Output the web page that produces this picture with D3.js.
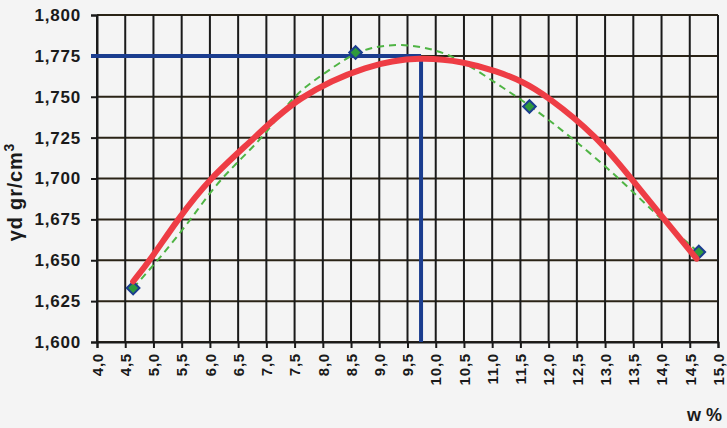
<!DOCTYPE html>
<html>
<head>
<meta charset="utf-8">
<script src="https://cdn.jsdelivr.net/npm/d3@7"></script>
<style>
  body { margin: 0; background: #f4f4f4; }
  svg { display: block; font-family: "Liberation Sans", Arial, sans-serif; }
</style>
</head>
<body>
<div id="chart"></div>
<script>
// measured points (w %, dry density)
var sampleW = [4.64, 8.58, 11.66, 14.66];
var sampleYd = [1.633, 1.777, 1.744, 1.655];

// red compaction curve
var curveW = [4.64, 4.94, 5.43, 5.99, 6.80, 7.54, 8.80, 9.74, 10.5, 11.09, 11.53, 11.97, 12.85, 13.46, 14.05, 14.62];
var curveYd = [1.637, 1.650, 1.675, 1.700, 1.725, 1.750, 1.770, 1.7745, 1.7714, 1.7655, 1.7595, 1.7505, 1.726, 1.700, 1.675, 1.651];

// green dashed trend line
var trendW = [4.64, 5.08, 5.67, 6.17, 6.96, 7.45, 7.93, 8.45, 8.80, 9.39, 10.0, 10.5, 11.1, 11.66, 12.41, 13.26, 13.99, 14.65];
var trendYd = [1.633, 1.650, 1.675, 1.700, 1.725, 1.750, 1.762, 1.7745, 1.780, 1.7827, 1.779, 1.7715, 1.7575, 1.745, 1.725, 1.700, 1.675, 1.655];

// optimum (w opt, yd max)
var optW = 9.74;
var optYd = 1.775;

var xTickValues = [4.0, 4.5, 5.0, 5.5, 6.0, 6.5, 7.0, 7.5, 8.0, 8.5, 9.0, 9.5, 10.0, 10.5, 11.0, 11.5, 12.0, 12.5, 13.0, 13.5, 14.0, 14.5, 15.0];
var yTickValues = [1.600, 1.625, 1.650, 1.675, 1.700, 1.725, 1.750, 1.775, 1.800];

var width = 727, height = 428;
var margin = {top: 15, right: 9, bottom: 86, left: 97};

var loc = d3.formatLocale({decimal: ",", thousands: ".", grouping: [3], currency: ["", ""]});
var fmtX = loc.format(".1f");
var fmtY = loc.format(".3f");

var x = d3.scaleLinear().domain([4, 15]).range([margin.left, width - margin.right]);
var y = d3.scaleLinear().domain([1.6, 1.8]).range([height - margin.bottom, margin.top]);

var svg = d3.select("#chart").append("svg")
    .attr("width", width)
    .attr("height", height);

svg.append("rect").attr("width", width).attr("height", height).attr("fill", "#f4f4f4");

// grid
svg.append("g").selectAll("line").data(yTickValues).enter().append("line")
    .attr("x1", x(4)).attr("x2", x(15))
    .attr("y1", function(d) { return y(d); }).attr("y2", function(d) { return y(d); })
    .attr("stroke", "#2a2316").attr("stroke-width", 2);
svg.append("g").selectAll("line").data(xTickValues).enter().append("line")
    .attr("x1", function(d) { return x(d); }).attr("x2", function(d) { return x(d); })
    .attr("y1", y(1.6)).attr("y2", y(1.8))
    .attr("stroke", "#1a1a1a").attr("stroke-width", 2);

// axes
var yAxis = svg.append("g")
    .attr("transform", "translate(" + x(4) + ",0)")
    .call(d3.axisLeft(y).tickValues(yTickValues).tickFormat(fmtY).tickSize(6).tickPadding(10));
yAxis.selectAll("text")
    .attr("font-size", 17).attr("font-weight", "bold").attr("fill", "#1a1a1a")
    .style("letter-spacing", "0.8px");

var xAxis = svg.append("g")
    .attr("transform", "translate(0," + y(1.6) + ")")
    .call(d3.axisBottom(x).tickValues(xTickValues).tickFormat(fmtX).tickSize(6));
xAxis.selectAll("text")
    .attr("font-size", 15).attr("font-weight", "bold").attr("fill", "#1a1a1a")
    .style("letter-spacing", "0.8px")
    .attr("text-anchor", "end")
    .attr("transform", "rotate(-90)")
    .attr("x", -11).attr("y", 0).attr("dy", "0.35em");
svg.selectAll(".domain, .tick line").attr("stroke", "#1a1a1a").attr("stroke-width", 2);

// optimum guide lines
svg.append("line")
    .attr("x1", x(4) - 6).attr("x2", x(optW))
    .attr("y1", y(optYd)).attr("y2", y(optYd))
    .attr("stroke", "#1b3d8f").attr("stroke-width", 4);
svg.append("line")
    .attr("x1", x(optW)).attr("x2", x(optW))
    .attr("y1", y(1.6)).attr("y2", y(optYd))
    .attr("stroke", "#1b3d8f").attr("stroke-width", 4);

var line = d3.line()
    .x(function(d) { return x(d[0]); })
    .y(function(d) { return y(d[1]); })
    .curve(d3.curveBasis);

// trend line (dashed green)
svg.append("path")
    .datum(d3.zip(trendW, trendYd))
    .attr("d", line)
    .attr("fill", "none")
    .attr("stroke", "#4fb444").attr("stroke-width", 2)
    .attr("stroke-dasharray", "7,5");

// points
svg.append("g").selectAll("path").data(d3.zip(sampleW, sampleYd)).enter().append("path")
    .attr("d", d3.symbol().type(d3.symbolSquare).size(80))
    .attr("transform", function(d) { return "translate(" + x(d[0]) + "," + y(d[1]) + ") rotate(45)"; })
    .attr("fill", "#2f9a3c").attr("stroke", "#1b3d8f").attr("stroke-width", 2);

// red curve
svg.append("path")
    .datum(d3.zip(curveW, curveYd))
    .attr("d", line)
    .attr("fill", "none")
    .attr("stroke", "#ee3d45").attr("stroke-width", 6)
    .attr("stroke-linecap", "round");

// titles
svg.append("text")
    .attr("transform", "translate(22,192) rotate(-90)")
    .attr("text-anchor", "middle")
    .attr("font-size", 20).attr("font-weight", "bold").attr("fill", "#1a1a1a")
    .style("letter-spacing", "0.8px")
    .text("γd gr/cm")
    .append("tspan").attr("dy", -8).attr("font-size", 14).text("3");

svg.append("text")
    .attr("x", 722).attr("y", 421)
    .attr("text-anchor", "end")
    .attr("font-size", 18).attr("font-weight", "bold").attr("fill", "#1a1a1a")
    .text("w %");
</script>
</body>
</html>
